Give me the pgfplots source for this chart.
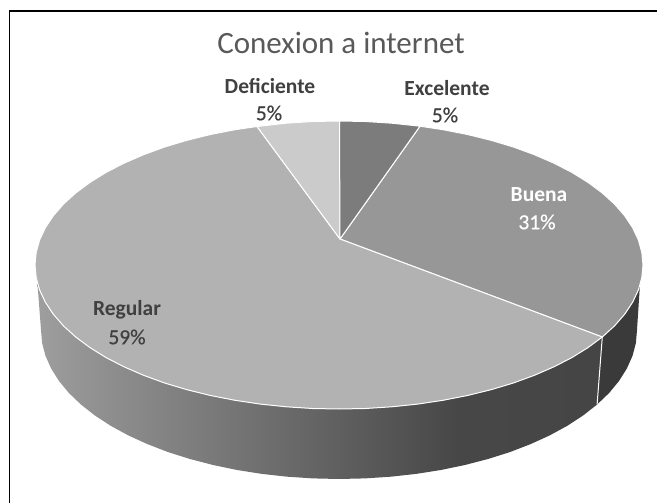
\documentclass[border=0pt]{standalone}
\usepackage{fontspec}
\setmainfont{Carlito}
\newfontfamily\pctfont[FakeBold=0.5]{Carlito}
\usepackage{pgfplots}
\pgfplotsset{compat=1.18}
\definecolor{titlegray}{HTML}{595959}
\definecolor{labelgray}{HTML}{404040}
\definecolor{excelente}{HTML}{7C7C7C}
\definecolor{buena}{HTML}{979797}
\definecolor{regular}{HTML}{B2B2B2}
\definecolor{deficiente}{HTML}{CBCBCB}
\definecolor{sidedark}{HTML}{3A3A3A}
% side of the big slice, light at the left and dark from the middle on
\pgfdeclarehorizontalshading{sidegrad}{100bp}{
  color(0bp)=(black!38); color(25bp)=(black!38);
  color(31bp)=(black!44); color(40bp)=(black!52);
  color(51bp)=(black!62); color(62bp)=(black!72);
  color(75bp)=(black!73); color(100bp)=(black!73)}
\begin{document}
\begin{tikzpicture}
\begin{axis}[
    scale only axis,
    width=657pt,
    height=503pt,
    xmin=0, xmax=657,
    ymin=0, ymax=503,
    y dir=reverse,
    hide axis,
    ]
% background and the frame (left and top only)
\addplot[fill=white, draw=none] coordinates {(0,0) (657,0) (657,503) (0,503)} -- cycle;
\addplot[black, line width=1.9pt] coordinates {(9.5,503) (9.5,11) (657,11)};
% sides
\addplot[draw=none, shading=sidegrad, shading angle=0] coordinates {
    (602.3,337) (588,347.6) (571.9,357.6) (554,366.8) (534.4,375.3) (513.4,383) (491,389.7)
    (467.5,395.5) (443,400.3) (417.7,404.1) (391.8,406.8) (365.5,408.5) (339,409)
    (312.5,408.5) (286.2,406.8) (260.3,404.1) (235,400.3) (210.5,395.5) (187,389.7)
    (164.6,383) (143.6,375.3) (124,366.8) (106.1,357.6) (90,347.6) (75.7,337) (63.5,325.9)
    (53.3,314.2) (45.4,302.3) (39.6,290) (37.5,284)
    (41,330) (42.1,343) (45.5,355.9) (51.2,368.6) (59,381) (68.9,393) (80.9,404.5)
    (94.9,415.5) (110.7,425.8) (128.3,435.4) (147.4,444.1) (168.1,452.1) (190,459)
    (213.1,465) (237.1,470) (261.9,473.9) (287.3,476.7) (313,478.4) (339,479)
    (365,478.4) (390.7,476.7) (416.1,473.9) (440.9,470) (464.9,465) (488,459)
    (509.9,452.1) (530.6,444.1) (549.7,435.4) (567.3,425.8) (583.1,415.5) (597.1,404.5)
    } -- cycle;
\addplot[fill=sidedark, draw=none] coordinates {
    (602.3,337) (614.5,325.9) (624.7,314.2) (632.6,302.3) (638.4,290) (640,284)
    (637,330) (635.9,343) (632.5,355.9) (626.8,368.6) (619,381) (609.1,393) (597.1,404.5)
    } -- cycle;
\addplot[white, line width=1pt] coordinates {(602.3,337) (597.1,404.5)};
% top face
\addplot[fill=buena, draw=white, line width=1pt, line join=round] coordinates {
    (340,239) (420,126.2) (443,129.7) (467.5,134.5) (491,140.3) (513.4,147) (534.4,154.7)
    (554,163.2) (571.9,172.4) (588,182.4) (602.3,193) (614.5,204.1) (624.7,215.8)
    (632.6,227.7) (638.4,240) (641.8,252.4) (643,265) (641.8,277.6) (638.4,290)
    (632.6,302.3) (624.7,314.2) (614.5,325.9) (602.3,337)
    } -- cycle;
\addplot[fill=regular, draw=white, line width=1pt, line join=round] coordinates {
    (340,239) (602.3,337) (588,347.6) (571.9,357.6) (554,366.8) (534.4,375.3) (513.4,383)
    (491,389.7) (467.5,395.5) (443,400.3) (417.7,404.1) (391.8,406.8) (365.5,408.5) (339,409)
    (312.5,408.5) (286.2,406.8) (260.3,404.1) (235,400.3) (210.5,395.5) (187,389.7)
    (164.6,383) (143.6,375.3) (124,366.8) (106.1,357.6) (90,347.6) (75.7,337) (63.5,325.9)
    (53.3,314.2) (45.4,302.3) (39.6,290) (36.2,277.6) (35,265) (36.2,252.4) (39.6,240)
    (45.4,227.7) (53.3,215.8) (63.5,204.1) (75.7,193) (90,182.4) (106.1,172.4) (124,163.2)
    (143.6,154.7) (164.6,147) (187,140.3) (210.5,134.5) (235,129.7) (257,126.5)
    } -- cycle;
\addplot[fill=deficiente, draw=white, line width=1pt, line join=round] coordinates {
    (340,239) (257,126.5) (286.2,123.2) (312.5,121.5) (339.5,121)
    } -- cycle;
\addplot[fill=excelente, draw=white, line width=1pt, line join=round] coordinates {
    (340,239) (339.5,121) (365.5,121.5) (391.8,123.2) (420,126.2)
    } -- cycle;
% texts
\node[text=titlegray, font=\fontsize{31}{31}\selectfont] at (axis cs:341,43) {Conexion a internet};
\node[text=labelgray, font=\fontsize{21.5}{21.5}\selectfont\bfseries] at (axis cs:270,86) {Deficiente};
\node[text=labelgray, font=\fontsize{21.5}{21.5}\selectfont\pctfont] at (axis cs:269,113) {5\%};
\node[text=labelgray, font=\fontsize{21.5}{21.5}\selectfont\bfseries] at (axis cs:447,88) {Excelente};
\node[text=labelgray, font=\fontsize{21.5}{21.5}\selectfont\pctfont] at (axis cs:445,115) {5\%};
\node[text=white, font=\fontsize{21.5}{21.5}\selectfont\bfseries] at (axis cs:539,195) {Buena};
\node[text=white, font=\fontsize{21.5}{21.5}\selectfont\pctfont] at (axis cs:537,222) {31\%};
\node[text=labelgray, font=\fontsize{21.5}{21.5}\selectfont\bfseries] at (axis cs:127,310) {Regular};
\node[text=labelgray, font=\fontsize{21.5}{21.5}\selectfont\pctfont] at (axis cs:127,337) {59\%};
\end{axis}
\end{tikzpicture}
\end{document}
